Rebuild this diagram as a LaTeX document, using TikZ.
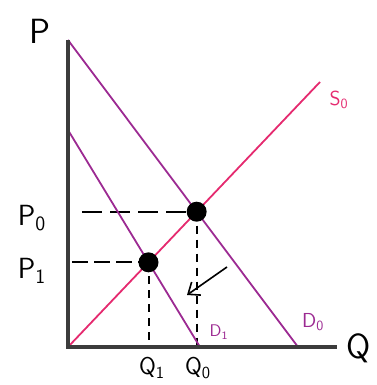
\documentclass[tikz,border=0pt]{standalone}
\usetikzlibrary{arrows.meta}
\definecolor{supplyred}{HTML}{E52A6F}
\definecolor{demandpurple}{HTML}{9C2A92}
\definecolor{axisgray}{HTML}{3C3C3C}
\begin{document}
\begin{tikzpicture}[x=0.25mm,y=0.25mm,
  axis/.style={line width=1.1mm,color=axisgray},
  supply/.style={line width=0.45mm,color=supplyred},
  demand/.style={line width=0.45mm,color=demandpurple},
  guide/.style={line width=0.5mm,dash pattern=on 5mm off 2mm},
  vguide/.style={line width=0.5mm,dash pattern=on 2mm off 1.5mm},
  dot/.style={circle,fill=black,inner sep=0pt,minimum size=5mm},
  lbl/.style={font=\sffamily\huge}]
\useasboundingbox (-68,-38) rectangle (309,347);

\coordinate (O) at (0,0);
\coordinate (ptop) at (0,307);
\coordinate (qend) at (269,0);
\coordinate (s0end) at (252,265);
\coordinate (d0top) at (0,307);
\coordinate (d0bot) at (230,0);
\coordinate (d1top) at (0,217);
\coordinate (d1bot) at (132,0);
\coordinate (e0) at (intersection of O--s0end and d0top--d0bot);
\coordinate (e1) at (intersection of O--s0end and d1top--d1bot);
\coordinate (p0start) at (14,0);
\coordinate (p1start) at (4,0);

% guides to the axes
\draw[guide] (p0start |- e0) -- (e0);
\draw[guide,dash pattern=on 4mm off 1.5mm] (p1start |- e1) -- (e1);
\draw[vguide] (e1) -- (e1 |- O);
\draw[vguide] (e0) -- (e0 |- O);

% curves
\draw[supply] (O) -- (s0end);
\draw[demand] (d0top) -- (d0bot);
\draw[demand] (d1top) -- (d1bot);

% axes
\draw[axis] (ptop) -- (O) -- (qend);

\node[dot] (eq0) at (e0) {};
\node[dot] (eq1) at (e1) {};

% shift of demand
\coordinate (shifta) at (159,80);
\coordinate (shiftb) at (119,52);
\draw[line width=0.4mm,-{Straight Barb[length=2.5mm,width=4mm]}] (shifta) -- (shiftb);

\node[font=\sffamily\Huge] (plabel) at (-28,316) {P};
\node[font=\sffamily\Huge] (qlabel) at (291,-1) {Q};
\node[lbl] (p0label) at (-36,129) {P\textsubscript{0}};
\node[lbl] (p1label) at (-36,76) {P\textsubscript{1}};
\node[font=\sffamily\LARGE] (q1label) at (84,-21) {Q\textsubscript{1}};
\node[font=\sffamily\LARGE] (q0label) at (130,-21) {Q\textsubscript{0}};
\node[font=\sffamily\Large,text=supplyred] (s0label) at (271,247) {S\textsubscript{0}};
\node[font=\sffamily\Large,text=demandpurple] (d0label) at (245,25) {D\textsubscript{0}};
\node[font=\sffamily\large,text=demandpurple] (d1label) at (151,15) {D\textsubscript{1}};
\end{tikzpicture}
\end{document}
